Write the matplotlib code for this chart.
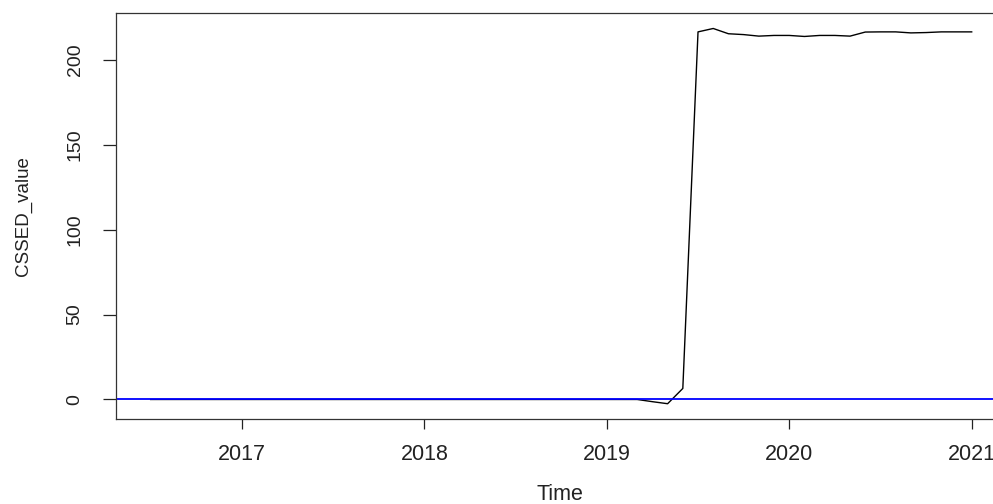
import matplotlib
matplotlib.use("Agg")
import numpy as np
import matplotlib.pyplot as plt

# monthly series (R ts style): start mid-2016, 12 per year
ts_start = 2016.5
ts_freq = 12
cssed_value = [
    0.0, 0.0, 0.0, 0.0, 0.0, 0.0,                                # 2016 Jul-Dec
    0.0, 0.0, 0.0, 0.0, 0.0, 0.0, 0.0, 0.0, 0.0, 0.0, 0.0, 0.0,  # 2017
    0.0, 0.0, 0.0, 0.0, 0.0, 0.0, 0.0, 0.0, 0.0, 0.0, 0.0, 0.0,  # 2018
    0.0, 0.0, 0.0, -1.3, -2.5, 6.5,                              # 2019 Jan-Jun
    216.6, 218.6, 215.5, 215.0, 214.1, 214.5,                    # 2019 Jul-Dec
    214.5, 213.9, 214.5, 214.5, 214.1, 216.5,                    # 2020 Jan-Jun
    216.6, 216.6, 216.0, 216.2, 216.6, 216.6,                    # 2020 Jul-Dec
    216.6,                                                       # 2021 Jan
]
x_ticks = [2017, 2018, 2019, 2020, 2021]
y_ticks = [0, 50, 100, 150, 200]

time = ts_start + np.arange(len(cssed_value)) / ts_freq

plt.rcParams["font.family"] = ["Liberation Sans", "DejaVu Sans"]

fig = plt.figure(figsize=(9.93, 5.04), dpi=100)
ax = fig.add_axes([0.11682, 0.16766, 0.8948, 0.80714])

ax.plot(time, cssed_value, color="black", lw=1.0)
ax.axhline(0, color="#0000ff", lw=1.3)

ax.set_xlim(2016.31, 2021.18)
ax.set_ylim(-11.8, 227.9)

ax.set_xticks(x_ticks)
ax.set_xticklabels([str(t) for t in x_ticks], fontsize=15.5)
ax.set_yticks(y_ticks)
ax.set_yticklabels([str(t) for t in y_ticks], fontsize=14, rotation=90, va="center")

ax.tick_params(axis="x", length=7.5, width=0.9, pad=10, colors="#222222")
ax.tick_params(axis="y", length=9.4, width=0.9, pad=14, colors="#222222")
for s in ax.spines.values():
    s.set_linewidth(0.9)
    s.set_color("#333333")

ax.set_xlabel("Time", fontsize=15.5, color="#222222")
ax.xaxis.set_label_coords(0.5, -0.158)
ax.set_ylabel("CSSED_value", fontsize=13.5, color="#222222")
ax.yaxis.set_label_coords(-0.094, 0.5)

fig.savefig("out.png", dpi=100)
